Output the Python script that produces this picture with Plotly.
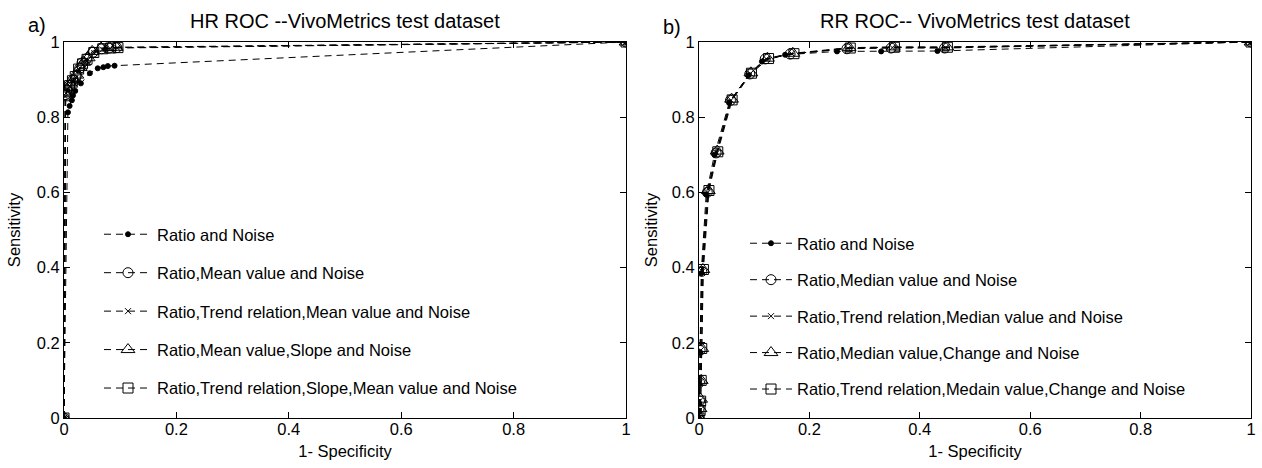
import plotly.graph_objects as go

# ---------------- data: HR ROC (panel a) ----------------
hr_names = ["Ratio and Noise",
            "Ratio,Mean value and Noise",
            "Ratio,Trend relation,Mean value and Noise",
            "Ratio,Mean value,Slope and Noise",
            "Ratio,Trend relation,Slope,Mean value and Noise"]
hr_x1 = [0, 0.007, 0.010, 0.014, 0.016, 0.02, 0.03, 0.046, 0.06, 0.07, 0.078, 0.09, 1]
hr_y1 = [0, 0.813, 0.83, 0.845, 0.858, 0.87, 0.89, 0.917, 0.93, 0.933, 0.936, 0.937, 1]
hr_x2 = [0, 0.003, 0.005, 0.01, 0.016, 0.022, 0.028, 0.032, 0.04, 0.052, 0.067, 0.08, 0.094, 1]
hr_y2 = [0, 0.86, 0.872, 0.885, 0.899, 0.91, 0.93, 0.944, 0.955, 0.973, 0.982, 0.984, 0.985, 1]
hr_x3 = [0, 0.002, 0.006, 0.011, 0.017, 0.021, 0.027, 0.034, 0.042, 0.054, 0.068, 0.082, 0.095, 1]
hr_y3 = [0, 0.855, 0.868, 0.882, 0.895, 0.905, 0.925, 0.94, 0.952, 0.97, 0.98, 0.983, 0.984, 1]
hr_x4 = [0, 0.003, 0.006, 0.012, 0.018, 0.023, 0.029, 0.035, 0.043, 0.05, 0.066, 0.081, 0.093, 1]
hr_y4 = [0, 0.862, 0.875, 0.888, 0.9, 0.912, 0.932, 0.946, 0.958, 0.975, 0.984, 0.985, 0.986, 1]
hr_x5 = [0, 0.002, 0.005, 0.01, 0.015, 0.02, 0.026, 0.033, 0.041, 0.053, 0.069, 0.083, 0.096, 1]
hr_y5 = [0, 0.857, 0.87, 0.884, 0.897, 0.908, 0.928, 0.942, 0.954, 0.972, 0.982, 0.984, 0.985, 1]

# ---------------- data: RR ROC (panel b) ----------------
rr_names = ["Ratio and Noise",
            "Ratio,Median value and Noise",
            "Ratio,Trend relation,Median value and Noise",
            "Ratio,Median value,Change and Noise",
            "Ratio,Trend relation,Medain value,Change and Noise"]
rr_x1 = [0, 0, 0, 0.001, 0.002, 0.004, 0.013, 0.028, 0.055, 0.09, 0.114, 0.156, 0.25, 0.33, 0.432, 1]
rr_y1 = [0, 0.02, 0.04, 0.09, 0.175, 0.385, 0.595, 0.70, 0.84, 0.912, 0.948, 0.966, 0.975, 0.975, 0.976, 1]
rr_x2 = [0, 0, 0.001, 0.001, 0.002, 0.005, 0.015, 0.031, 0.057, 0.092, 0.12, 0.165, 0.268, 0.348, 0.445, 1]
rr_y2 = [0, 0.025, 0.045, 0.095, 0.18, 0.39, 0.60, 0.705, 0.845, 0.915, 0.955, 0.968, 0.982, 0.984, 0.984, 1]
rr_x3 = [0, 0.001, 0.001, 0.002, 0.003, 0.006, 0.016, 0.032, 0.058, 0.093, 0.122, 0.168, 0.27, 0.35, 0.447, 1]
rr_y3 = [0, 0.02, 0.045, 0.095, 0.18, 0.39, 0.60, 0.705, 0.845, 0.916, 0.955, 0.969, 0.983, 0.985, 0.985, 1]
rr_x4 = [0, 0.002, 0.003, 0.004, 0.005, 0.007, 0.017, 0.033, 0.059, 0.094, 0.124, 0.17, 0.272, 0.352, 0.449, 1]
rr_y4 = [0, 0.025, 0.05, 0.10, 0.185, 0.395, 0.605, 0.71, 0.848, 0.918, 0.957, 0.97, 0.985, 0.987, 0.987, 1]
rr_x5 = [0, 0.002, 0.003, 0.004, 0.005, 0.008, 0.018, 0.034, 0.06, 0.095, 0.126, 0.172, 0.274, 0.354, 0.45, 1]
rr_y5 = [0, 0.02, 0.045, 0.10, 0.185, 0.395, 0.605, 0.708, 0.846, 0.917, 0.956, 0.969, 0.984, 0.986, 0.986, 1]

ticks = [0, 0.2, 0.4, 0.6, 0.8, 1]
tick_text = ["0", "0.2", "0.4", "0.6", "0.8", "1"]

symbols = ["circle", "circle-open", "x-thin-open", "triangle-up-open", "square-open"]
sizes = [5, 10, 6, 12, 10]

hr_data = [(hr_x1, hr_y1), (hr_x2, hr_y2), (hr_x3, hr_y3), (hr_x4, hr_y4), (hr_x5, hr_y5)]
rr_data = [(rr_x1, rr_y1), (rr_x2, rr_y2), (rr_x3, rr_y3), (rr_x4, rr_y4), (rr_x5, rr_y5)]

DASH = "7px,5px"

fig = go.Figure()
for i, (xs, ys) in enumerate(hr_data):
    fig.add_trace(go.Scatter(
        x=xs, y=ys, name=hr_names[i], mode="lines+markers",
        line=dict(color="black", width=1, dash=DASH),
        marker=dict(symbol=symbols[i], size=sizes[i], color="black",
                    line=dict(color="black", width=1)),
        xaxis="x", yaxis="y", legend="legend", legendgroup="a%d" % i))
for i, (xs, ys) in enumerate(rr_data):
    fig.add_trace(go.Scatter(
        x=xs, y=ys, name=rr_names[i], mode="lines+markers",
        line=dict(color="black", width=1, dash=DASH),
        marker=dict(symbol=symbols[i], size=sizes[i], color="black",
                    line=dict(color="black", width=1)),
        xaxis="x2", yaxis="y2", legend="legend2", legendgroup="b%d" % i))

FAM = "Liberation Sans, Arial, Helvetica, sans-serif"
font = dict(family=FAM, size=16.5, color="black")
ax_common = dict(range=[0, 1], tickvals=ticks, ticktext=tick_text, ticks="inside",
                 ticklen=6, tickcolor="black", showline=True, linecolor="black",
                 linewidth=1, mirror="allticks", showgrid=False, zeroline=False,
                 tickfont=font, automargin=False, ticklabeloverflow="allow")

L, R, T, B = 64, 11, 42, 50
W, H = 1262, 468
pw = W - L - R
ph = H - T - B


def px_x(p):
    return (p - L) / pw


def px_y(p):
    return (H - B - p) / ph


fig.update_layout(
    width=W, height=H,
    margin=dict(l=L, r=R, t=T, b=B, autoexpand=False),
    paper_bgcolor="white", plot_bgcolor="white",
    font=font,
    xaxis=dict(ax_common, domain=[0, px_x(626)], anchor="y", ticklabelstandoff=-4,
               title=dict(text="1- Specificity", font=font, standoff=8)),
    yaxis=dict(ax_common, domain=[0, 1], anchor="x",
               title=dict(text="Sensitivity", font=font, standoff=11)),
    xaxis2=dict(ax_common, domain=[px_x(699), 1], anchor="y2", ticklabelstandoff=-4,
                title=dict(text="1- Specificity", font=font, standoff=8)),
    yaxis2=dict(ax_common, domain=[0, 1], anchor="x2",
                title=dict(text="Sensitivity", font=font, standoff=9)),
    legend=dict(x=px_x(99), y=px_y(217), xanchor="left", yanchor="top",
                bgcolor="rgba(0,0,0,0)", borderwidth=0, font=font,
                tracegroupgap=14, itemwidth=48),
    legend2=dict(x=px_x(745), y=px_y(226), xanchor="left", yanchor="top",
                 bgcolor="rgba(0,0,0,0)", borderwidth=0, font=font,
                 tracegroupgap=12, itemwidth=42),
    annotations=[
        dict(text="HR ROC --VivoMetrics test dataset", xref="paper", yref="paper",
             x=px_x(345), y=1.0, yshift=8, xanchor="center", yanchor="bottom",
             showarrow=False, font=dict(font, size=20)),
        dict(text="RR ROC-- VivoMetrics test dataset", xref="paper", yref="paper",
             x=px_x(975), y=1.0, yshift=8, xanchor="center", yanchor="bottom",
             showarrow=False, font=dict(font, size=20)),
        dict(text="a)", xref="paper", yref="paper", x=px_x(26), y=1.0, yshift=4,
             xanchor="left", yanchor="bottom", showarrow=False, font=dict(font, size=20)),
        dict(text="b)", xref="paper", yref="paper", x=px_x(661), y=1.0, yshift=2,
             xanchor="left", yanchor="bottom", showarrow=False, font=dict(font, size=20)),
    ],
)

fig.write_html("out.html",
               config={"displayModeBar": False},
               post_script="document.body.style.margin='0';"
                           "document.body.style.overflow='hidden';")
